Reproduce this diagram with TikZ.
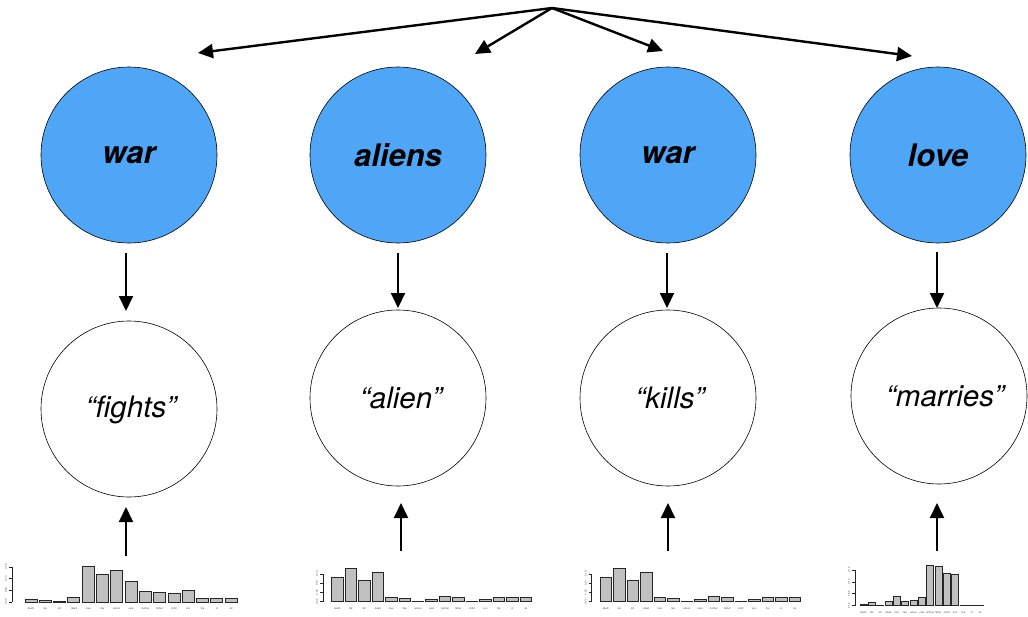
\documentclass[tikz,border=0pt]{standalone}
\usepackage{fontspec}
\setmainfont{TeX Gyre Heros}
\usetikzlibrary{arrows.meta}
\definecolor{topicblue}{RGB}{80,166,246}
\definecolor{barfill}{RGB}{192,192,192}
\tikzset{
  topic/.style={circle,draw=black,line width=0.6pt,fill=topicblue,minimum size=176pt,inner sep=0pt,
    font=\fontsize{31}{31}\selectfont\bfseries\itshape},
  word/.style={circle,draw=black,line width=0.6pt,fill=white,minimum size=176pt,inner sep=0pt,
    font=\fontsize{29.5}{30}\selectfont\itshape},
  toparrow/.style={line width=2.4pt,-{Triangle[length=15pt,width=14pt]}},
  vertarrow/.style={line width=2pt,-{Triangle[length=15pt,width=14pt]}},
  histbar/.style={draw=black!85,line width=0.9pt,fill=barfill},
  histaxis/.style={draw=black!85,line width=0.7pt},
  tinylbl/.style={font=\fontsize{2.6}{3}\selectfont,text=black!70,inner sep=0pt}
}
% #1 x0, #2 base, #3 step, #4 bar width, #5 heights (zoom units, /3), #6 axis x, #7 axis top, #8 name
\newcommand\myhist[8]{%
  \foreach \hh [count=\ii from 0] in {#5} {
    \draw[histbar] ({#1+\ii*#3},#2) rectangle ++(#4,{-\hh/3});
  }
  \foreach \ww [count=\ii from 0] in {death,die,kill,dead,love,like,adore,care,mother,father,child,son,the,of,do} {
    \node[tinylbl] (#8-\ii) at ({#1+\ii*#3+#4/2},{#2+7}) {\ww};
  }
  \draw[histaxis] (#6,#2) -- (#6,#7);
  \foreach \tt [count=\ii from 0] in {0.00,0.05,0.10,0.15} {
    \draw[histaxis] (#6,{#2-\ii*(#2-#7)/3}) -- ++(-3,0);
    \node[tinylbl,rotate=90] at ({#6-6},{#2-\ii*(#2-#7)/3}) {\tt};
  }
}
\begin{document}
\begin{tikzpicture}[x=1pt,y=-1pt]
\useasboundingbox (0,0) rectangle (1028,616);

\coordinate (apex) at (552,8);
\coordinate (t1) at (198,53);
\coordinate (t2) at (475,54);
\coordinate (t3) at (663,51);
\coordinate (t4) at (912,56);

\node[topic] (z1) at (129,155) {war};
\node[topic] (z2) at (398,155) {aliens};
\node[topic] (z3) at (668,155) {war};
\node[topic] (z4) at (938,155) {love};

\node[word] (w1) at (129,409) {};
\node[word] (w2) at (398,398) {};
\node[word] (w3) at (668,398) {};
\node[word] (w4) at (939,396) {};
\node[word,draw=none,fill=none,minimum size=0pt] (l1) at (131,410) {“fights”};
\node[word,draw=none,fill=none,minimum size=0pt] (l2) at (401,398) {“alien”};
\node[word,draw=none,fill=none,minimum size=0pt] (l3) at (670,398) {“kills”};
\node[word,draw=none,fill=none,minimum size=0pt] (l4) at (945,396) {“marries”};

\foreach \t in {t1,t2,t3,t4} \draw[toparrow] (apex) -- (\t);

\coordinate (d1a) at (126,253); \coordinate (d1b) at (126,311);
\coordinate (d2a) at (398,253); \coordinate (d2b) at (398,308);
\coordinate (d3a) at (667,253); \coordinate (d3b) at (667,308);
\coordinate (d4a) at (937,252); \coordinate (d4b) at (937,308);
\foreach \i in {1,2,3,4} \draw[vertarrow] (d\i a) -- (d\i b);

\coordinate (u1a) at (126,556); \coordinate (u1b) at (126,507);
\coordinate (u2a) at (401,551); \coordinate (u2b) at (401,503);
\coordinate (u3a) at (668,551); \coordinate (u3b) at (668,503);
\coordinate (u4a) at (937,551); \coordinate (u4b) at (937,503);
\foreach \i in {1,2,3,4} \draw[vertarrow] (u\i a) -- (u\i b);

\myhist{25}{602}{14.3}{12}{9,5,2,15,107,84,96,62,32,29,25,36,12,12,12}{12}{567}{h1}
\myhist{331.7}{601.7}{13.45}{11.5}{73,101,65,87,12,9,2,6,16,12,2,6,12,12,12}{323}{574}{h2}
\myhist{600}{601.7}{13.5}{11.5}{73,101,65,87,12,9,2,6,16,12,2,6,12,12,12}{591.7}{574}{h3}
\myhist{860}{605.7}{8.33}{7}{5,10,1,13,28,13,16,24,122,118,98,94,1,1,1}{855}{570}{h4}
\end{tikzpicture}
\end{document}
